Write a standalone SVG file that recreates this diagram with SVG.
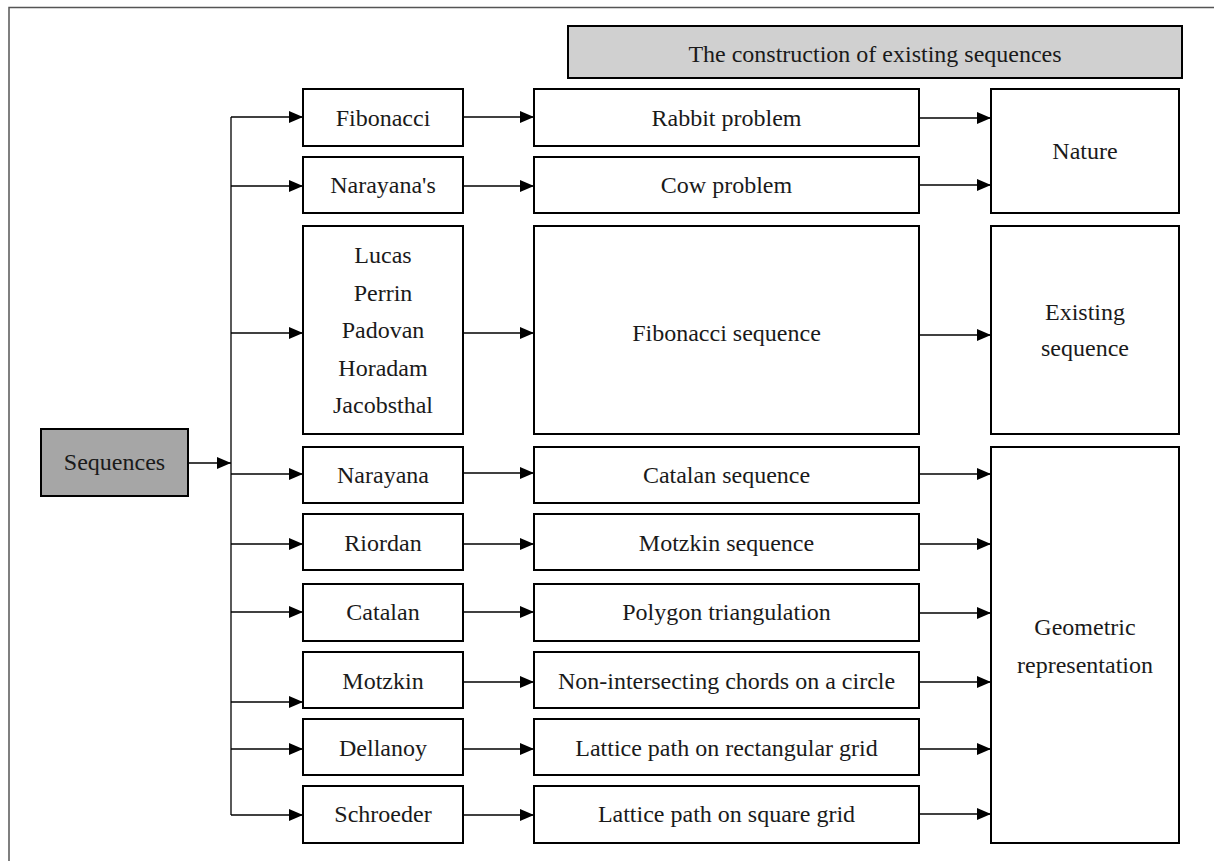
<svg xmlns="http://www.w3.org/2000/svg" width="1214" height="861" viewBox="0 0 1214 861">
<style>
.box{fill:#fff;stroke:#000;stroke-width:2}
.t{font-family:"Liberation Serif","Times New Roman",serif;font-size:24px;fill:#1a1a1a;text-anchor:middle}
.c{stroke:#000;stroke-width:1.3;fill:none}
</style>
<defs>
<marker id="ah" viewBox="0 0 14 12" refX="14" refY="6" markerWidth="14" markerHeight="12" markerUnits="userSpaceOnUse" orient="auto">
<path d="M0,0 L14,6 L0,12 Z" fill="#000"/>
</marker>
</defs>
<rect width="1214" height="861" fill="#fff"/>
<path d="M9,861 V7.5 H1214" fill="none" stroke="#555" stroke-width="1.5"/>

<g id="title"><rect x="568" y="26" width="614" height="52" fill="#d0d0d0" stroke="#000" stroke-width="2"/><text class="t" x="875" y="62">The construction of existing sequences</text></g>
<g id="sequences"><rect x="41" y="429" width="147" height="67" fill="#a6a6a6" stroke="#000" stroke-width="2"/><text class="t" x="114.5" y="470">Sequences</text></g>

<g id="fibonacci"><rect class="box" x="303" y="89" width="160" height="57"/><text class="t" x="383" y="126">Fibonacci</text></g>
<g id="narayanas"><rect class="box" x="303" y="157" width="160" height="56"/><text class="t" x="383" y="193">Narayana's</text></g>
<g id="lucas"><rect class="box" x="303" y="226" width="160" height="208"/>
<text class="t" x="383" y="263">Lucas</text><text class="t" x="383" y="300.5">Perrin</text><text class="t" x="383" y="338">Padovan</text><text class="t" x="383" y="375.5">Horadam</text><text class="t" x="383" y="413">Jacobsthal</text></g>
<g id="narayana"><rect class="box" x="303" y="447" width="160" height="56"/><text class="t" x="383" y="483">Narayana</text></g>
<g id="riordan"><rect class="box" x="303" y="514" width="160" height="56"/><text class="t" x="383" y="551">Riordan</text></g>
<g id="catalan"><rect class="box" x="303" y="584" width="160" height="57"/><text class="t" x="383" y="620">Catalan</text></g>
<g id="motzkin"><rect class="box" x="303" y="652" width="160" height="56"/><text class="t" x="383" y="689">Motzkin</text></g>
<g id="dellanoy"><rect class="box" x="303" y="719" width="160" height="56"/><text class="t" x="383" y="756">Dellanoy</text></g>
<g id="schroeder"><rect class="box" x="303" y="786" width="160" height="57"/><text class="t" x="383" y="822">Schroeder</text></g>

<g id="rabbit"><rect class="box" x="534" y="89" width="385" height="57"/><text class="t" x="726.5" y="126">Rabbit problem</text></g>
<g id="cow"><rect class="box" x="534" y="157" width="385" height="56"/><text class="t" x="726.5" y="193">Cow problem</text></g>
<g id="fibseq"><rect class="box" x="534" y="226" width="385" height="208"/><text class="t" x="726.5" y="341">Fibonacci sequence</text></g>
<g id="catalanseq"><rect class="box" x="534" y="447" width="385" height="56"/><text class="t" x="726.5" y="483">Catalan sequence</text></g>
<g id="motzkinseq"><rect class="box" x="534" y="514" width="385" height="56"/><text class="t" x="726.5" y="551">Motzkin sequence</text></g>
<g id="polygon"><rect class="box" x="534" y="584" width="385" height="57"/><text class="t" x="726.5" y="620">Polygon triangulation</text></g>
<g id="chords"><rect class="box" x="534" y="652" width="385" height="56"/><text class="t" x="726.5" y="689">Non-intersecting chords on a circle</text></g>
<g id="rectgrid"><rect class="box" x="534" y="719" width="385" height="56"/><text class="t" x="726.5" y="756">Lattice path on rectangular grid</text></g>
<g id="squaregrid"><rect class="box" x="534" y="786" width="385" height="57"/><text class="t" x="726.5" y="822">Lattice path on square grid</text></g>

<g id="nature"><rect class="box" x="991" y="89" width="188" height="124"/><text class="t" x="1085" y="159">Nature</text></g>
<g id="existing"><rect class="box" x="991" y="226" width="188" height="208"/><text class="t" x="1085" y="320">Existing</text><text class="t" x="1085" y="356">sequence</text></g>
<g id="geometric"><rect class="box" x="991" y="447" width="188" height="396"/><text class="t" x="1085" y="634.5">Geometric</text><text class="t" x="1085" y="672.5">representation</text></g>

<g id="connectors">
<path class="c" d="M231,117 V815"/>
<path class="c" d="M188,463 H231" marker-end="url(#ah)"/>
<path class="c" d="M231,117 H303" marker-end="url(#ah)"/>
<path class="c" d="M231,186 H303" marker-end="url(#ah)"/>
<path class="c" d="M231,333 H303" marker-end="url(#ah)"/>
<path class="c" d="M231,474 H303" marker-end="url(#ah)"/>
<path class="c" d="M231,544 H303" marker-end="url(#ah)"/>
<path class="c" d="M231,612 H303" marker-end="url(#ah)"/>
<path class="c" d="M231,702 H303" marker-end="url(#ah)"/>
<path class="c" d="M231,749 H303" marker-end="url(#ah)"/>
<path class="c" d="M231,815 H303" marker-end="url(#ah)"/>
<path class="c" d="M463,117 H534" marker-end="url(#ah)"/>
<path class="c" d="M463,186 H534" marker-end="url(#ah)"/>
<path class="c" d="M463,333 H534" marker-end="url(#ah)"/>
<path class="c" d="M463,473 H534" marker-end="url(#ah)"/>
<path class="c" d="M463,544 H534" marker-end="url(#ah)"/>
<path class="c" d="M463,612 H534" marker-end="url(#ah)"/>
<path class="c" d="M463,682 H534" marker-end="url(#ah)"/>
<path class="c" d="M463,749 H534" marker-end="url(#ah)"/>
<path class="c" d="M463,815 H534" marker-end="url(#ah)"/>
<path class="c" d="M919,118 H991" marker-end="url(#ah)"/>
<path class="c" d="M919,185 H991" marker-end="url(#ah)"/>
<path class="c" d="M919,335 H991" marker-end="url(#ah)"/>
<path class="c" d="M919,474 H991" marker-end="url(#ah)"/>
<path class="c" d="M919,544 H991" marker-end="url(#ah)"/>
<path class="c" d="M919,613 H991" marker-end="url(#ah)"/>
<path class="c" d="M919,682 H991" marker-end="url(#ah)"/>
<path class="c" d="M919,749 H991" marker-end="url(#ah)"/>
<path class="c" d="M919,814 H991" marker-end="url(#ah)"/>
</g>
</svg>
